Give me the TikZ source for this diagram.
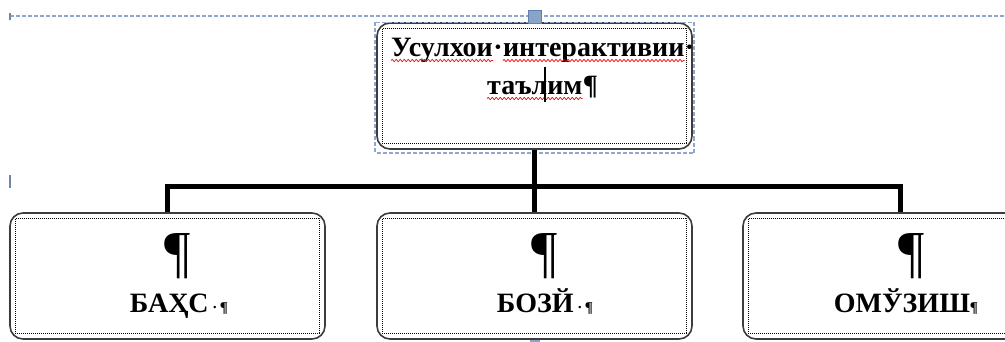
\documentclass[tikz,border=0pt]{standalone}
\usepackage{fontspec}
\setmainfont{Liberation Serif}
\usetikzlibrary{calc,decorations.pathmorphing}
\definecolor{boxgrey}{HTML}{3C3C3C}
\definecolor{selblue}{HTML}{8EA7CB}
\definecolor{handleblue}{HTML}{8AA3C8}
\definecolor{handleedge}{HTML}{5F7FAE}
\tikzset{
  box/.style={draw=boxgrey, line width=1.6pt, rounded corners=13pt, minimum width=315pt, minimum height=126pt, inner sep=0pt},
  inbox/.style={draw=black, line width=0.9pt, dash pattern=on 1pt off 1pt},
  conn/.style={line width=5pt, draw=black},
  sel/.style={draw=selblue, line width=1.2pt, dash pattern=on 4pt off 2pt},
  tick/.style={draw=selblue!80!black, line width=1.5pt},
  big/.style={font=\fontsize{28}{38}\selectfont\bfseries, inner sep=0pt},
  para/.style={font=\fontsize{58}{58}\selectfont, inner sep=0pt},
  word/.style={big, anchor=base west},
  wave/.style={draw=red, line width=0.7pt, decorate, decoration={snake, amplitude=1.2pt, segment length=4pt}},
}
\newcommand\tailmark[1]{{\fontsize{15}{15}\selectfont#1¶}}
\begin{document}
\begin{tikzpicture}[x=1pt,y=1pt]
\useasboundingbox (0,0) rectangle (1005,-342);
\clip (0,0) rectangle (1005,-342);
\fill[white] (0,0) rectangle (1005,-342);
% selection frame marks
\draw[sel] (10,-16) -- (1005,-16);
\draw[tick] (10,-13) -- (10,-20);
\draw[tick] (10,-175) -- (10,-188);
% boxes
\node[box] (top) at (534.5,-86) {};
\node[box] (b1) at (167.5,-276) {};
\node[box] (b2) at (534.5,-276) {};
\node[box] (b3) at (900.5,-276) {};
\foreach \n in {top,b1,b2,b3}{
  \draw[inbox] ($(\n.south west)+(6,6)$) rectangle ($(\n.north east)+(-6,-6)$);
}
\draw[sel] (375,-22.5) rectangle (694,-153);
\draw[fill=handleblue, draw=handleedge, line width=0.8pt] (528,-10) rectangle (541,-23);
\fill[handleblue] (530,-340) rectangle (540,-342);
% connectors
\draw[conn] (top.south) -- ++(0,-37) coordinate (j);
\draw[conn] (b1.north) |- (j) -| (b3.north);
\draw[conn] (j) -- (b2.north);
% top text
\node[word] (w1) at (391,-57) {Усулхои};
\node[word] (s1) at (w1.base east) {·};
\node[word] (w2) at (s1.base east) {интерактивии};
\node[word] (s2) at (w2.base east) {·};
\node[word] (w3) at (487,-95) {таълим};
\node[word] (s3) at (w3.base east) {¶};
\foreach \w in {w1,w2,w3}{
  \draw[wave] ([yshift=-3.5pt]\w.base west) -- ([yshift=-3.5pt]\w.base east);
}
\draw[line width=1.8pt] (545,-67) -- (545,-102);
% bottom texts
\node[para, anchor=base] (p1) at (177.5,-271) {¶};
\node[para, anchor=base] (p2) at (545,-271) {¶};
\node[para, anchor=base] (p3) at (912,-271) {¶};
\node[big, anchor=base] (l1) at (179,-312) {БАҲС\tailmark{\ ·\,}};
\node[big, anchor=base] (l2) at (545,-312) {БОЗЙ\tailmark{\ ·\,}};
\node[big, anchor=base] (l3) at (906,-312) {ОМЎЗИШ\tailmark{}};
\end{tikzpicture}
\end{document}
